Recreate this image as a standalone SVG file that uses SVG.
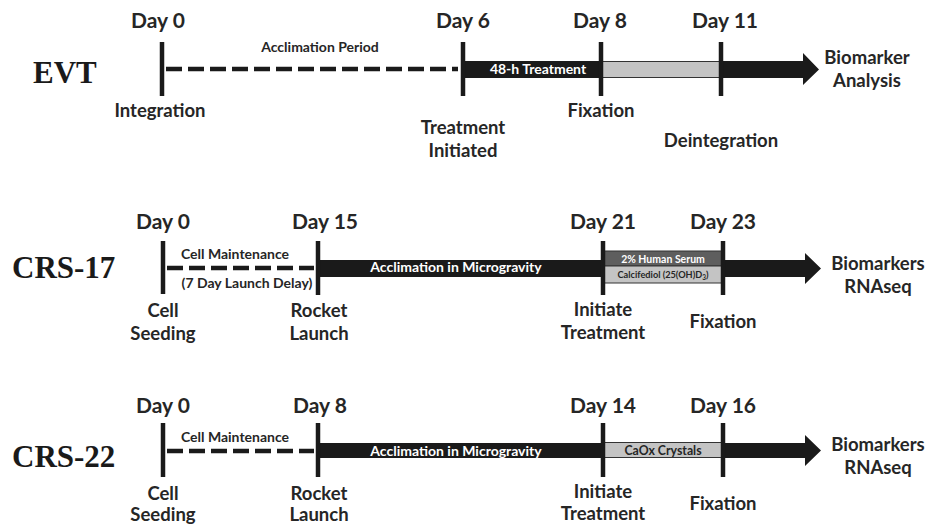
<svg xmlns="http://www.w3.org/2000/svg" width="942" height="524" viewBox="0 0 942 524">
<style>
.t{font-family:Lato,"Open Sans","Liberation Sans",sans-serif;font-weight:bold;fill:#262626;text-anchor:middle}
.day{font-size:21px}
.lbl{font-size:18.5px}
.sm{font-size:14px}
.w{fill:#ffffff}
.ttl{font-family:"Liberation Serif","Times New Roman",serif;font-weight:bold;font-size:31px;fill:#1a1a1a}
.tick{stroke:#1a1a1a;stroke-width:4.5}
.dash{stroke:#1a1a1a;stroke-width:4.5;stroke-dasharray:16 6}
.bar{fill:#1a1a1a}
.gray{fill:#c4c4c4;stroke:#333;stroke-width:1}
</style>

<!-- EVT -->
<g id="evt">
  <text class="ttl" x="33" y="83">EVT</text>
  <g id="evt-timeline">
    <line class="dash" x1="166" y1="69" x2="458" y2="69"/>
    <rect class="bar" x="463" y="61" width="138" height="17"/>
    <rect class="gray" x="601" y="61.5" width="120" height="16"/>
    <polygon class="bar" points="721,61 803,61 803,53 819,69.5 803,85 803,78 721,78"/>
    <line class="tick" x1="162" y1="42" x2="162" y2="96"/>
    <line class="tick" x1="463" y1="42" x2="463" y2="96"/>
    <line class="tick" x1="601" y1="42" x2="601" y2="96"/>
    <line class="tick" x1="721" y1="42" x2="721" y2="96"/>
  </g>
  <text class="t day" x="158" y="28">Day 0</text>
  <text class="t day" x="463" y="28">Day 6</text>
  <text class="t day" x="600" y="28">Day 8</text>
  <text class="t day" x="725" y="28">Day 11</text>
  <text class="t sm" x="320" y="52">Acclimation Period</text>
  <text class="t sm w" x="538" y="74">48-h Treatment</text>
  <text class="t lbl" x="160" y="117">Integration</text>
  <text class="t lbl" x="463" y="134">Treatment</text>
  <text class="t lbl" x="463" y="157">Initiated</text>
  <text class="t lbl" x="601" y="117">Fixation</text>
  <text class="t lbl" x="721" y="147">Deintegration</text>
  <text class="t lbl" x="867" y="64">Biomarker</text>
  <text class="t lbl" x="867" y="87">Analysis</text>
</g>

<!-- CRS-17 -->
<g id="crs17">
  <text class="ttl" x="12" y="278">CRS-17</text>
  <g id="crs17-timeline">
    <line class="dash" x1="167" y1="268" x2="314" y2="268"/>
    <rect class="bar" x="318" y="260" width="285" height="17"/>
    <rect x="603" y="251" width="120" height="15" fill="#5e5e5e" stroke="#333" stroke-width="1"/>
    <rect class="gray" x="603" y="266" width="120" height="17"/>
    <polygon class="bar" points="723,260 805,260 805,253 821,268.5 805,284 805,277 723,277"/>
    <line class="tick" x1="163" y1="241" x2="163" y2="294"/>
    <line class="tick" x1="318" y1="241" x2="318" y2="295"/>
    <line class="tick" x1="603" y1="241" x2="603" y2="295"/>
    <line class="tick" x1="723" y1="241" x2="723" y2="295"/>
  </g>
  <text class="t day" x="163" y="229">Day 0</text>
  <text class="t day" x="325" y="229">Day 15</text>
  <text class="t day" x="603" y="229">Day 21</text>
  <text class="t day" x="723" y="229">Day 23</text>
  <text class="t sm" x="235" y="259">Cell Maintenance</text>
  <text class="t sm" x="247" y="288">(7 Day Launch Delay)</text>
  <text class="t w" x="456" y="272" font-size="14">Acclimation in Microgravity</text>
  <text class="t w" x="663" y="262.5" font-size="10.5">2% Human Serum</text>
  <text class="t" x="663" y="278" font-size="9.2" fill="#333">Calcifediol (25(OH)D<tspan font-size="6.5" dy="2">3</tspan><tspan dy="-2">)</tspan></text>
  <text class="t lbl" x="163" y="317">Cell</text>
  <text class="t lbl" x="163" y="340">Seeding</text>
  <text class="t lbl" x="319" y="317">Rocket</text>
  <text class="t lbl" x="319" y="340">Launch</text>
  <text class="t lbl" x="603" y="316">Initiate</text>
  <text class="t lbl" x="603" y="339">Treatment</text>
  <text class="t lbl" x="723" y="328">Fixation</text>
  <text class="t lbl" x="878" y="270">Biomarkers</text>
  <text class="t lbl" x="878" y="293">RNAseq</text>
</g>

<!-- CRS-22 -->
<g id="crs22">
  <text class="ttl" x="12" y="467">CRS-22</text>
  <g id="crs22-timeline">
    <line class="dash" x1="167" y1="451" x2="314" y2="451"/>
    <rect class="bar" x="318" y="443" width="285" height="15"/>
    <rect class="gray" x="603" y="442.5" width="120" height="15"/>
    <polygon class="bar" points="723,443 805,443 805,435 821,450.5 805,466 805,458 723,458"/>
    <line class="tick" x1="163" y1="423" x2="163" y2="477"/>
    <line class="tick" x1="318" y1="423" x2="318" y2="477"/>
    <line class="tick" x1="603" y1="423" x2="603" y2="477"/>
    <line class="tick" x1="723" y1="423" x2="723" y2="477"/>
  </g>
  <text class="t day" x="163" y="413">Day 0</text>
  <text class="t day" x="320" y="413">Day 8</text>
  <text class="t day" x="603" y="413">Day 14</text>
  <text class="t day" x="723" y="413">Day 16</text>
  <text class="t sm" x="235" y="442">Cell Maintenance</text>
  <text class="t w" x="456" y="455.5" font-size="14">Acclimation in Microgravity</text>
  <text class="t" x="663" y="454.5" font-size="12.3" fill="#444" font-weight="normal">CaOx Crystals</text>
  <text class="t lbl" x="163" y="500">Cell</text>
  <text class="t lbl" x="163" y="521">Seeding</text>
  <text class="t lbl" x="319" y="500">Rocket</text>
  <text class="t lbl" x="319" y="521">Launch</text>
  <text class="t lbl" x="603" y="498">Initiate</text>
  <text class="t lbl" x="603" y="520">Treatment</text>
  <text class="t lbl" x="723" y="510">Fixation</text>
  <text class="t lbl" x="878" y="451">Biomarkers</text>
  <text class="t lbl" x="878" y="474">RNAseq</text>
</g>
</svg>
